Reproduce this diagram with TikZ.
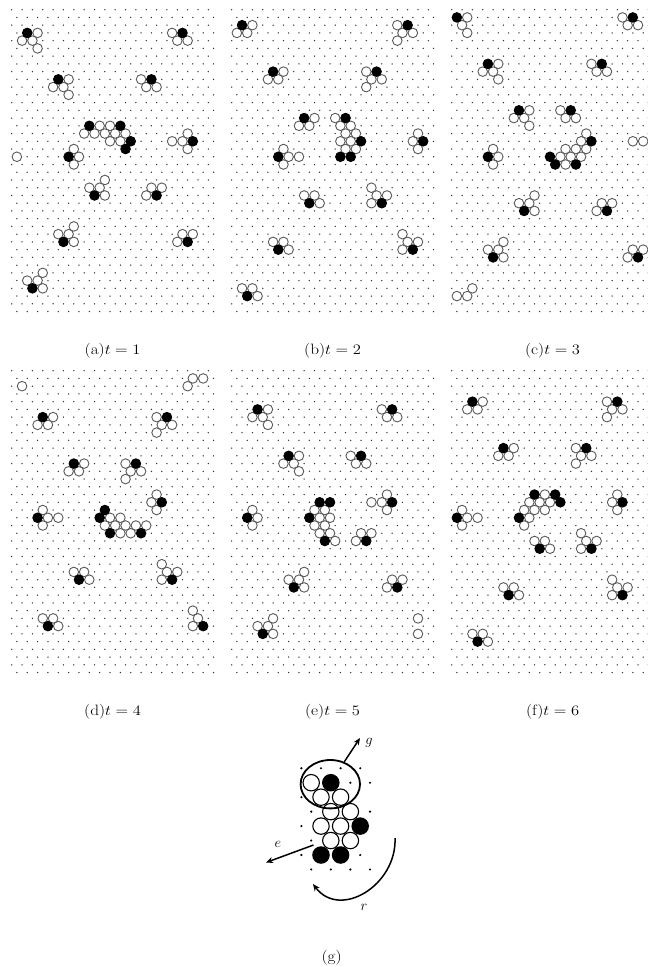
\documentclass[tikz,border=0pt]{standalone}
\usetikzlibrary{arrows.meta,shapes.geometric}
\tikzset{
  latdot/.style={fill=black!80},
  wc/.style={draw=black!65, line width=0.9pt, fill=white},
  bc/.style={draw=black, fill=black, line width=0.9pt},
  gdot/.style={fill=black},
  gwc/.style={draw=black, line width=1.1pt, fill=white},
  gbc/.style={draw=black, fill=black, line width=1.1pt},
  capt/.style={font=\fontsize{15}{18}\selectfont, inner sep=0pt},
  garrow/.style={line width=1.5pt, -{Stealth[length=7pt,width=6pt]}},
}
\newcommand{\mylattice}{%
  \foreach \j in {0,...,39}{%
    \pgfmathtruncatemacro{\pp}{mod(\j,2)}%
    \foreach \i in {0,...,19}{%
      \fill[latdot] ({2*\i+\pp},\j) circle[radius=0.75pt];
    }%
  }%
}
\newcommand{\drawpanel}[4]{%
  \begin{scope}[shift={(#1,#2)}, x=5.175pt, y=-7.74pt]
    \mylattice
    \foreach \k/\j in {#3} {\draw[wc] (\k,\j) circle[radius=4.8pt];}
    \foreach \k/\j in {#4} {\draw[bc] (\k,\j) circle[radius=4.8pt];}
  \end{scope}%
}
\begin{document}
\begin{tikzpicture}[x=1pt, y=-1pt]
\useasboundingbox (0,0) rectangle (648,967);

% (a)
\drawpanel{11.7}{9.7}{5/3,2/4,4/4,5/5,31/3,32/4,34/4,11/9,8/10,10/10,11/11,25/9,26/10,28/10,17/15,19/15,14/16,16/16,18/16,20/16,22/16,19/17,21/17,34/16,31/17,33/17,34/18,1/19,12/18,13/19,12/20,18/22,15/23,17/23,18/24,27/23,29/23,26/24,12/28,9/29,11/29,12/30,33/29,35/29,32/30,6/34,3/35,5/35,6/36}{3/3,33/3,9/9,27/9,15/15,21/15,23/17,22/18,35/17,11/19,16/24,28/24,10/30,34/30,4/36}
% (b)
\drawpanel{231.7}{9.7}{4/2,1/3,3/3,32/2,33/3,35/3,32/4,10/8,7/9,9/9,26/8,27/9,29/9,26/10,16/14,13/15,15/15,20/14,21/15,23/15,22/16,24/16,21/17,23/17,22/18,24/18,36/16,35/17,36/18,10/18,11/19,13/19,10/20,14/24,16/24,17/25,27/23,28/24,30/24,27/25,8/30,10/30,11/31,33/29,34/30,36/30,33/31,2/36,4/36,5/37}{2/2,34/2,8/8,28/8,14/14,22/14,25/17,21/19,23/19,37/17,9/19,15/25,29/25,9/31,35/31,3/37}
% (c)
\drawpanel{451.7}{9.7}{3/1,2/2,3/3,33/1,34/2,36/2,9/7,6/8,8/8,9/9,27/7,28/8,30/8,15/13,12/14,14/14,15/15,21/13,22/14,24/14,26/16,25/17,22/18,24/18,26/18,21/19,23/19,25/19,22/20,35/17,37/17,8/18,9/19,8/20,16/24,13/25,15/25,16/26,29/25,31/25,28/26,10/30,7/31,9/31,10/32,35/31,37/31,34/32,4/36,1/37,3/37}{1/1,35/1,7/7,29/7,13/13,23/13,27/17,19/19,20/20,24/20,7/19,14/26,30/26,8/32,36/32}
% (d)
\drawpanel{11.7}{370.7}{2/2,35/1,37/1,34/2,8/6,5/7,7/7,28/6,29/7,31/7,28/8,14/12,11/13,13/13,22/12,23/13,25/13,22/14,28/16,27/17,28/18,19/19,21/19,18/20,20/20,22/20,24/20,26/20,21/21,23/21,6/18,7/19,9/19,6/20,12/26,14/26,15/27,29/25,30/26,32/26,29/27,6/32,8/32,9/33,35/31,36/32,35/33}{6/6,30/6,12/12,24/12,29/17,18/18,17/19,19/21,25/21,5/19,13/27,31/27,7/33,37/33}
% (e)
\drawpanel{231.7}{370.7}{7/5,4/6,6/6,7/7,29/5,30/6,32/6,13/11,10/12,12/12,13/13,23/11,24/12,26/12,30/16,27/17,29/17,30/18,4/18,5/19,4/20,16/18,18/18,17/19,19/19,16/20,18/20,17/21,19/21,20/22,25/21,27/21,24/22,14/26,11/27,13/27,14/28,31/27,33/27,30/28,8/32,5/33,7/33,8/34,36/32,36/34}{5/5,31/5,11/11,25/11,31/17,3/19,17/17,19/17,15/19,18/22,26/22,12/28,32/28,6/34}
% (f)
\drawpanel{451.7}{370.7}{6/4,3/5,5/5,30/4,31/5,33/5,30/6,12/10,9/11,11/11,24/10,25/11,27/11,24/12,18/16,15/17,17/17,19/17,14/18,16/18,18/18,15/19,14/20,32/16,31/17,32/18,2/18,3/19,5/19,2/20,16/22,18/22,19/23,25/21,26/22,28/22,25/23,10/28,12/28,13/29,31/27,32/28,34/28,31/29,4/34,6/34,7/35}{4/4,32/4,10/10,26/10,16/16,20/16,21/17,13/19,33/17,1/19,17/23,27/23,11/29,33/29,5/35}

% captions
\node[capt] (capa) at (112.6,351) {\scalebox{1.15}[1]{(a)$t=1$}};
\node[capt] (capb) at (332.6,351) {\scalebox{1.15}[1]{(b)$t=2$}};
\node[capt] (capc) at (552.6,351) {\scalebox{1.15}[1]{(c)$t=3$}};
\node[capt] (capd) at (112.6,712) {\scalebox{1.15}[1]{(d)$t=4$}};
\node[capt] (cape) at (332.6,712) {\scalebox{1.15}[1]{(e)$t=5$}};
\node[capt] (capf) at (552.6,712) {\scalebox{1.15}[1]{(f)$t=6$}};

% (g)
\begin{scope}[shift={(311.2,782.7)}, x=9.8pt, y=-14.46pt]
  \foreach \k/\j in {-1/-1,1/-1,3/-1,5/-1,4/0,6/0,-1/1,0/2,6/2,-1/3,0/4,-1/5,5/5,0/6,2/6,4/6,6/6}
    {\fill[gdot] (\k,\j) circle[radius=1.2pt];}
  \foreach \k/\j in {0/0,1/1,3/1,2/2,4/2,1/3,3/3,2/4,4/4}
    {\draw[gwc] (\k,\j) circle[radius=8.2pt];}
  \foreach \k/\j in {2/0,5/3,1/5,3/5}
    {\draw[gbc] (\k,\j) circle[radius=8.2pt];}
\end{scope}
\node[draw, ellipse, line width=1.8pt, minimum width=59.4pt, minimum height=48.4pt, inner sep=0pt] (ell) at (330.3,784.2) {};
\coordinate (gtip) at (360,738);
\draw[garrow] (ell.58) -- (gtip);
\node[capt] (lg) at (369,743) {$g$};
\coordinate (estart) at (313.5,845);
\coordinate (etip) at (266,862.5);
\draw[garrow] (estart) -- (etip);
\node[capt] (le) at (278,844) {$e$};
\coordinate (rstart) at (395,838);
\coordinate (rtip) at (313,884);
\draw[garrow] (rstart) .. controls (397,885) and (340,920) .. (rtip);
\node[capt] (lr) at (364,907) {$r$};
\node[capt] (capg) at (331.7,958) {\scalebox{1.15}[1]{(g)}};
\end{tikzpicture}
\end{document}
